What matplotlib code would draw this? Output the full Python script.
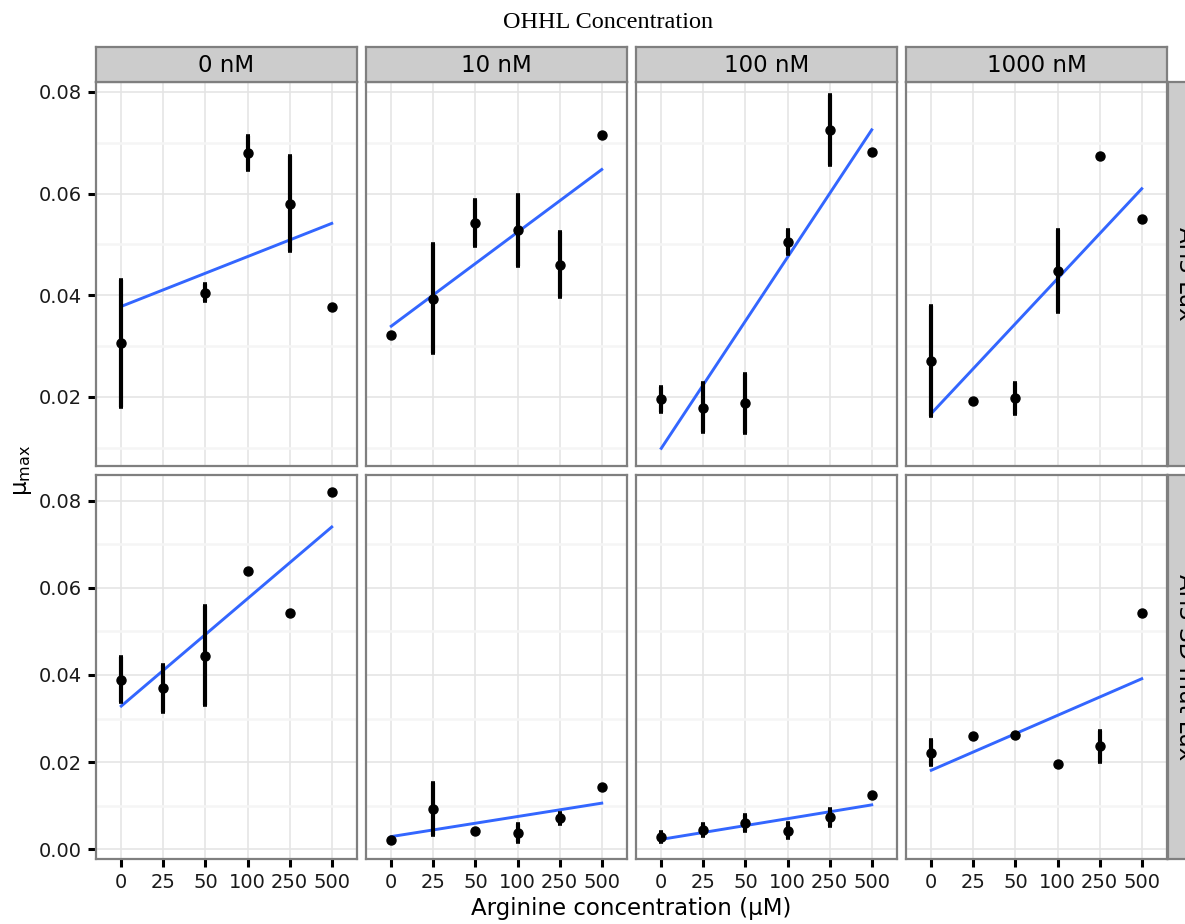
import matplotlib.pyplot as plt
import numpy as np

plt.rcParams['font.family'] = ['DejaVu Sans']

arginine = ['0', '25', '50', '100', '250', '500']
ohhl = ['0 nM', '10 nM', '100 nM', '1000 nM']
strains = ['Arl3 Lux', 'Arl3 SD mut Lux']

# mean mu_max per OHHL level (rows of each list follow ohhl), nan = no data
lux_mu = [
    [0.0305, np.nan, 0.0405, 0.0680, 0.0580, 0.0377],
    [0.0321, 0.0393, 0.0542, 0.0528, 0.0460, 0.0715],
    [0.0195, 0.0179, 0.0187, 0.0505, 0.0725, 0.0681],
    [0.0270, 0.0192, 0.0197, 0.0447, 0.0674, 0.0550],
]
lux_se = [
    [0.0125, 0.0, 0.0017, 0.0033, 0.0093, 0.0],
    [0.0, 0.0107, 0.0045, 0.0070, 0.0064, 0.0],
    [0.0024, 0.0049, 0.0058, 0.0024, 0.0068, 0.0],
    [0.0108, 0.0, 0.0030, 0.0081, 0.0, 0.0],
]
sdmut_mu = [
    [0.0389, 0.0369, 0.0444, 0.0639, 0.0543, 0.0821],
    [0.0021, 0.0092, 0.0042, 0.0037, 0.0071, 0.0142],
    [0.0028, 0.0044, 0.0061, 0.0043, 0.0073, 0.0125],
    [0.0222, 0.0259, 0.0262, 0.0196, 0.0236, 0.0543],
]
sdmut_se = [
    [0.0052, 0.0054, 0.0114, 0.0, 0.0, 0.0],
    [0.0, 0.0059, 0.0, 0.0020, 0.0013, 0.0],
    [0.0012, 0.0013, 0.0018, 0.0018, 0.0019, 0.0],
    [0.0028, 0.0, 0.0, 0.0, 0.0035, 0.0],
]

W, H = 1185, 924
fig = plt.figure(figsize=(W / 100, H / 100), dpi=100)

col_left = [96, 366, 636, 906]
pw = 261
row_top = [81.7, 475]
ph = 384.3
ylims = [(0.0064, 0.0820), (-0.0023, 0.0859)]
yticks = [[0.02, 0.04, 0.06, 0.08], [0.00, 0.02, 0.04, 0.06, 0.08]]
yminor = [[0.01, 0.03, 0.05, 0.07], [0.01, 0.03, 0.05, 0.07]]

border = '#7F7F7F'
strip_bg = '#CCCCCC'

x = np.arange(1, 7)
for r, (mus, ses) in enumerate([(lux_mu, lux_se), (sdmut_mu, sdmut_se)]):
    for c in range(4):
        ax = fig.add_axes([col_left[c] / W, 1 - (row_top[r] + ph) / H, pw / W, ph / H])
        mu = np.array(mus[c])
        se = np.array(ses[c])
        ok = ~np.isnan(mu)

        ax.set_xlim(0.4, 6.6)
        ax.set_ylim(*ylims[r])
        ax.set_xticks(x)
        ax.set_yticks(yticks[r])
        ax.set_yticks(yminor[r], minor=True)
        ax.set_axisbelow(True)
        ax.grid(which='major', color='#E5E5E5', lw=1.2)
        ax.grid(which='minor', axis='y', color='#F5F5F5', lw=1.8)

        # linear fit over the category positions, like geom_smooth(method=lm)
        p = np.polyfit(x[ok], mu[ok], 1)
        xs = x[ok][[0, -1]]
        ax.plot(xs, np.polyval(p, xs), color='#3366FF', lw=2.1, zorder=2)
        ax.errorbar(x[ok], mu[ok], yerr=se[ok], fmt='o', color='black', ms=6.5,
                    elinewidth=3.0, capsize=1.4, capthick=2.6, zorder=3)

        for s in ax.spines.values():
            s.set_color(border)
            s.set_linewidth(1.6)

        ax.tick_params(which='minor', length=0)
        ax.tick_params(which='major', length=6, width=2.2, color='black',
                       labelsize=14, labelcolor='#1a1a1a', pad=4)
        if r == 1:
            ax.set_xticklabels(arginine)
        else:
            ax.tick_params(axis='x', length=0, labelbottom=False)
        if c == 0:
            ax.set_yticklabels(['%.2f' % v for v in yticks[r]])
        else:
            ax.tick_params(axis='y', length=0, labelleft=False)

        # top strips
        if r == 0:
            sa = fig.add_axes([col_left[c] / W, 1 - row_top[0] / H, pw / W, 35 / H])
            sa.set_facecolor(strip_bg)
            sa.set_xticks([])
            sa.set_yticks([])
            for s in sa.spines.values():
                s.set_color(border)
                s.set_linewidth(1.6)
            sa.text(0.5, 0.45, ohhl[c], ha='center', va='center', fontsize=16.5,
                    transform=sa.transAxes)

    # right strips (partly cut off by the figure edge, as in the original)
    ra = fig.add_axes([1168 / W, 1 - (row_top[r] + ph) / H, 40 / W, ph / H])
    ra.set_facecolor(strip_bg)
    ra.set_xticks([])
    ra.set_yticks([])
    for s in ra.spines.values():
        s.set_color(border)
        s.set_linewidth(1.6)
    ra.text(0.44, 0.5, strains[r], ha='center', va='center', rotation=-90,
            fontsize=16.5, transform=ra.transAxes)

fig.text(608 / W, 1 - 23 / H, 'OHHL Concentration', ha='center', va='center',
         fontsize=17.5, family='Liberation Serif')
fig.text(631 / W, 1 - 909 / H, 'Arginine concentration (\u03bcM)', ha='center',
         va='center', fontsize=16.5)
fig.text(22 / W, 1 - 470 / H, '\u03bc$_{\\mathrm{max}}$', ha='center', va='center',
         rotation=90, fontsize=16.5)

fig.savefig('out.png', dpi=100)
